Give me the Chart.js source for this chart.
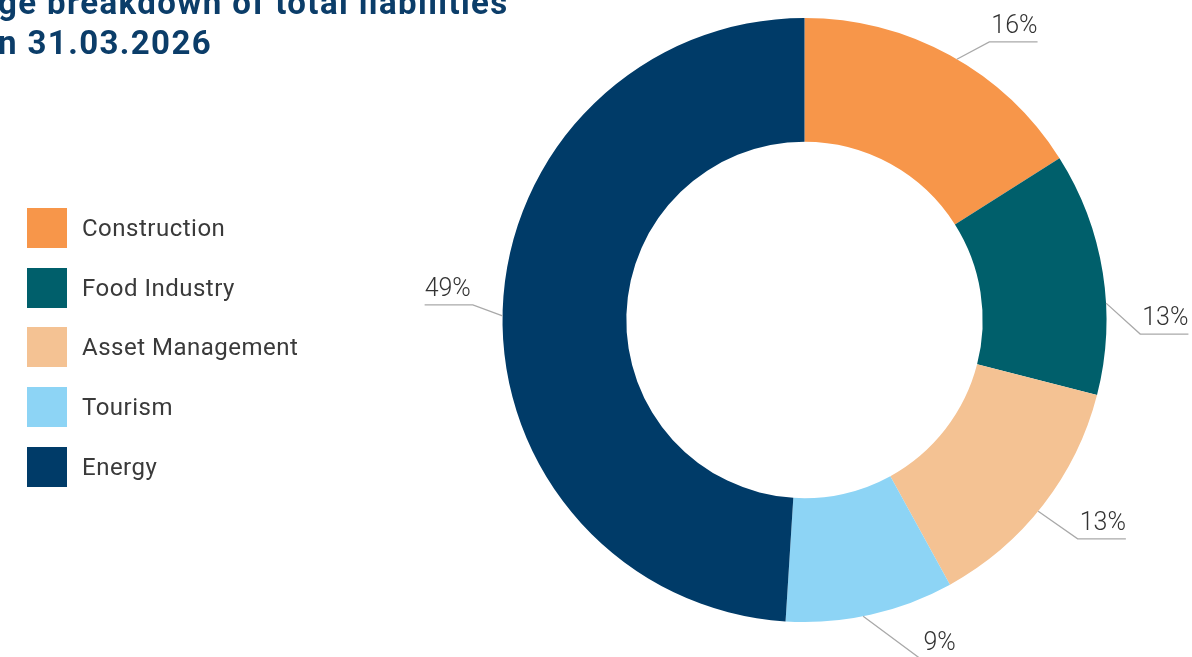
<!DOCTYPE html>
<html>
<head>
<meta charset="utf-8">
<script src="https://cdn.jsdelivr.net/npm/chart.js@4"></script>
<style>
    html, body { margin: 0; padding: 0; background: #fff; overflow: hidden; }
    #wrap { position: relative; width: 1192px; height: 657px; }
    #grafico { position: absolute; left: 0; top: 0; }
    .titulo {
        position: absolute; left: -2px; margin: 0;
        font-family: Roboto, "Liberation Sans", sans-serif; font-weight: 700;
        font-size: 33px; color: #0b3d69; white-space: nowrap; letter-spacing: 1.4px;
    }
    #legenda { position: absolute; left: 27px; top: 208px; }
    .item { display: flex; align-items: center; height: 40px; margin-bottom: 19.7px; }
    .caixa { width: 40px; height: 40px; margin-right: 15px; }
    .texto { font-family: Roboto, "Liberation Sans", sans-serif; font-size: 24px; color: #3a3a3a; letter-spacing: 0.5px; }
</style>
</head>
<body>
<div id="wrap">
    <canvas id="grafico" width="1192" height="657"></canvas>
    <div class="titulo" style="top:-17px">ge breakdown of total liabilities</div>
    <div class="titulo" style="top:23px">n 31.03.2026</div>
    <div id="legenda"></div>
</div>
<script>
// Sectores e percentagens do passivo total
const setores = ['Construction', 'Food Industry', 'Asset Management', 'Tourism', 'Energy'];
const percentagens = [16, 13, 13, 9, 49];
const cores = ['#f7964a', '#005f6b', '#f4c293', '#8dd4f5', '#003b68'];

// Legenda em HTML
const legenda = document.getElementById('legenda');
setores.forEach((nome, i) => {
    const item = document.createElement('div');
    item.className = 'item';
    item.innerHTML = '<div class="caixa" style="background:' + cores[i] + '"></div><span class="texto">' + nome + '</span>';
    legenda.appendChild(item);
});

// Ajustes das linhas de chamada (graus e distância além do raio)
const chamadas = [
    { ini: 1.5, cot: 4.8, dist: 32 },
    { ini: 5.8, cot: 11.4, dist: 34 },
    { ini: 1.5, cot: 0.9, dist: 48 },
    { ini: 1.4, cot: -6.4, dist: 57 },
    { ini: -1.0, cot: 0.8, dist: 30 }
];

const rotulos = {
    id: 'rotulos',
    afterDatasetsDraw(chart) {
        const ctx = chart.ctx;
        const meta = chart.getDatasetMeta(0);
        const rad = Math.PI / 180;
        ctx.save();
        ctx.font = '300 25px Roboto, "Liberation Sans", sans-serif';
        meta.data.forEach((arco, i) => {
            const p = arco.getProps(['x', 'y', 'startAngle', 'endAngle', 'outerRadius'], true);
            const meio = (p.startAngle + p.endAngle) / 2;
            const c = chamadas[i];
            const a0 = meio + c.ini * rad;
            const a1 = meio + c.cot * rad;
            const x0 = p.x + p.outerRadius * Math.cos(a0);
            const y0 = p.y + p.outerRadius * Math.sin(a0);
            const r1 = p.outerRadius + c.dist;
            const x1 = p.x + r1 * Math.cos(a1);
            const y1 = p.y + r1 * Math.sin(a1);
            const texto = percentagens[i] + '%';
            const larg = ctx.measureText(texto).width + 2;
            const dir = Math.cos(a1) >= 0 ? 1 : -1;
            const x2 = x1 + dir * larg;

            ctx.strokeStyle = '#a9a9a9';
            ctx.lineWidth = 1.3;
            ctx.beginPath();
            ctx.moveTo(x0, y0);
            ctx.lineTo(x1, y1);
            ctx.lineTo(x2, y1);
            ctx.stroke();

            ctx.fillStyle = '#333';
            ctx.textBaseline = 'alphabetic';
            ctx.textAlign = dir > 0 ? 'right' : 'left';
            ctx.fillText(texto, x2, y1 - 9);
        });
        ctx.restore();
    }
};

const grafico = new Chart(document.getElementById('grafico'), {
    type: 'doughnut',
    data: {
        labels: setores,
        datasets: [{
            data: percentagens,
            backgroundColor: cores,
            borderWidth: 0
        }]
    },
    options: {
        responsive: false,
        animation: false,
        cutout: '59%',
        layout: { padding: { left: 502.5, right: 85.5, top: 18, bottom: 35 } },
        plugins: {
            legend: { display: false },
            tooltip: { enabled: false }
        }
    },
    plugins: [rotulos]
});
</script>
</body>
</html>
